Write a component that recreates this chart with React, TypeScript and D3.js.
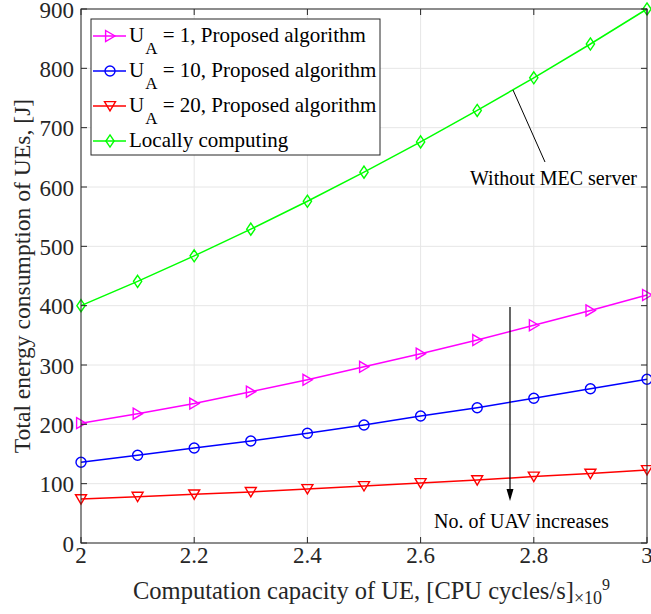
import React from "react";
import * as d3 from "d3";

const capacity = [2, 2.1, 2.2, 2.3, 2.4, 2.5, 2.6, 2.7, 2.8, 2.9, 3];
const ua1 = [202, 218, 235, 255, 275, 297, 319, 342, 367, 392, 418];
const ua10 = [136, 148, 160, 172, 185, 199, 214, 228, 244, 260, 276];
const ua20 = [74, 78, 82, 86, 91, 96, 101, 106, 112, 117, 123];
const local = [400, 441, 484, 529, 576, 625, 676, 729, 784, 841, 900];
const xTicks = [2, 2.2, 2.4, 2.6, 2.8, 3];
const yTicks = [0, 100, 200, 300, 400, 500, 600, 700, 800, 900];

type Marker = "right" | "circle" | "down" | "diamond";
const series: { label: string; sub?: string; rest: string; values: number[]; color: string; marker: Marker }[] = [
  { label: "U", sub: "A", rest: " = 1, Proposed algorithm", values: ua1, color: "#ff00ff", marker: "right" },
  { label: "U", sub: "A", rest: " = 10, Proposed algorithm", values: ua10, color: "#0000ff", marker: "circle" },
  { label: "U", sub: "A", rest: " = 20, Proposed algorithm", values: ua20, color: "#ff0000", marker: "down" },
  { label: "Locally computing", rest: "", values: local, color: "#00ff00", marker: "diamond" },
];

const W = 651;
const H = 614;
const M = { left: 81, right: 4, top: 9, bottom: 71 };
const FONT = "'Liberation Serif', 'Times New Roman', serif";

function markerPath(kind: Marker, r: number): string {
  switch (kind) {
    case "right":
      return `M${-r * 0.8},${-r}L${r * 0.9},0L${-r * 0.8},${r}Z`;
    case "down":
      return `M${-r},${-r * 0.8}L${r},${-r * 0.8}L0,${r * 0.9}Z`;
    case "diamond":
      return `M0,${-r * 1.1}L${r * 0.75},0L0,${r * 1.1}L${-r * 0.75},0Z`;
    default:
      return "";
  }
}

function MarkerShape({ kind, x, y, color }: { kind: Marker; x: number; y: number; color: string }) {
  if (kind === "circle") {
    return <circle cx={x} cy={y} r={5} fill="none" stroke={color} strokeWidth={1.4} />;
  }
  return (
    <path d={markerPath(kind, 5.5)} transform={`translate(${x},${y})`} fill="none" stroke={color} strokeWidth={1.4} />
  );
}

export default function App() {
  const x = d3.scaleLinear().domain([2, 3]).range([M.left, W - M.right]);
  const y = d3.scaleLinear().domain([0, 900]).range([H - M.bottom, M.top]);
  const x0 = x.range()[0];
  const x1 = x.range()[1];
  const y0 = y.range()[0];
  const y1 = y.range()[1];
  const axisColor = "#262626";

  const line = d3
    .line<number>()
    .x((_, i) => x(capacity[i]))
    .y((d) => y(d));

  const legendX = 91;
  const legendY = 19;
  const legendW = 289;
  const legendH = 136;
  const rowH = 35;

  return (
    <svg width={W} height={H} style={{ display: "block", position: "absolute", left: 0, top: 0 }} fontFamily={FONT}>
      <rect x={0} y={0} width={W} height={H} fill="#fff" />
      {/* grid */}
      <g stroke="#e6e6e6" strokeWidth={1}>
        {xTicks.map((t) => (
          <line key={`gx${t}`} x1={x(t)} x2={x(t)} y1={y0} y2={y1} />
        ))}
        {yTicks.map((t) => (
          <line key={`gy${t}`} x1={x0} x2={x1} y1={y(t)} y2={y(t)} />
        ))}
      </g>
      {/* series */}
      {series.map((s) => (
        <g key={s.label + s.rest}>
          <path d={line(s.values) || ""} fill="none" stroke={s.color} strokeWidth={1.5} />
          {s.values.map((v, i) => (
            <MarkerShape key={i} kind={s.marker} x={x(capacity[i])} y={y(v)} color={s.color} />
          ))}
        </g>
      ))}
      {/* axes box and ticks */}
      <rect x={x0} y={y1} width={x1 - x0} height={y0 - y1} fill="none" stroke={axisColor} strokeWidth={1} />
      <g stroke={axisColor} strokeWidth={1}>
        {xTicks.map((t) => (
          <g key={`tx${t}`}>
            <line x1={x(t)} x2={x(t)} y1={y0} y2={y0 - 6} />
            <line x1={x(t)} x2={x(t)} y1={y1} y2={y1 + 6} />
          </g>
        ))}
        {yTicks.map((t) => (
          <g key={`ty${t}`}>
            <line x1={x0} x2={x0 + 6} y1={y(t)} y2={y(t)} />
            <line x1={x1} x2={x1 - 6} y1={y(t)} y2={y(t)} />
          </g>
        ))}
      </g>
      <g fill="#262626" fontSize={23}>
        {xTicks.map((t) => (
          <text key={`lx${t}`} x={x(t)} y={y0 + 20} textAnchor="middle">
            {t}
          </text>
        ))}
        {yTicks.map((t) => (
          <text key={`ly${t}`} x={x0 - 7} y={y(t) + 8.5} textAnchor="end">
            {t}
          </text>
        ))}
      </g>
      {/* axis titles */}
      <text x={133} y={599} textAnchor="start" fontSize={24.5} fill="#262626">
        Computation capacity of UE, [CPU cycles/s]
        <tspan fontSize={18} dy={5}>×10</tspan>
        <tspan fontSize={16} dy={-14}>9</tspan>
      </text>
      <text
        transform={`translate(30,${(y0 + y1) / 2}) rotate(-90)`}
        textAnchor="middle"
        fontSize={23.6}
        fill="#262626"
      >
        Total energy consumption of UEs, [J]
      </text>
      {/* legend */}
      <rect x={legendX} y={legendY} width={legendW} height={legendH} fill="#fff" stroke={axisColor} strokeWidth={1} />
      {series.map((s, i) => {
        const cy = legendY + 17 + i * rowH;
        return (
          <g key={`lg${i}`}>
            <line x1={legendX + 2} x2={legendX + 35} y1={cy} y2={cy} stroke={s.color} strokeWidth={1.5} />
            <MarkerShape kind={s.marker} x={legendX + 19} y={cy} color={s.color} />
            <text x={legendX + 38} y={cy + 6} fontSize={21} fill="#000">
              {s.label}
              {s.sub && (
                <tspan fontSize={17} dy={12} dx={1}>
                  {s.sub}
                </tspan>
              )}
              {s.sub ? <tspan dy={-12}>{s.rest}</tspan> : null}
            </text>
          </g>
        );
      })}
      {/* annotations */}
      <line x1={513} y1={90} x2={545} y2={162} stroke="#000" strokeWidth={1} />
      <text x={470} y={185} fontSize={20} fill="#000">
        Without MEC server
      </text>
      <line x1={510} y1={307} x2={510} y2={492} stroke="#000" strokeWidth={1.2} />
      <path d="M506.5,489L510,501L513.5,489Z" fill="#000" />
      <text x={434} y={528} fontSize={20} fill="#000">
        No. of UAV increases
      </text>
    </svg>
  );
}
